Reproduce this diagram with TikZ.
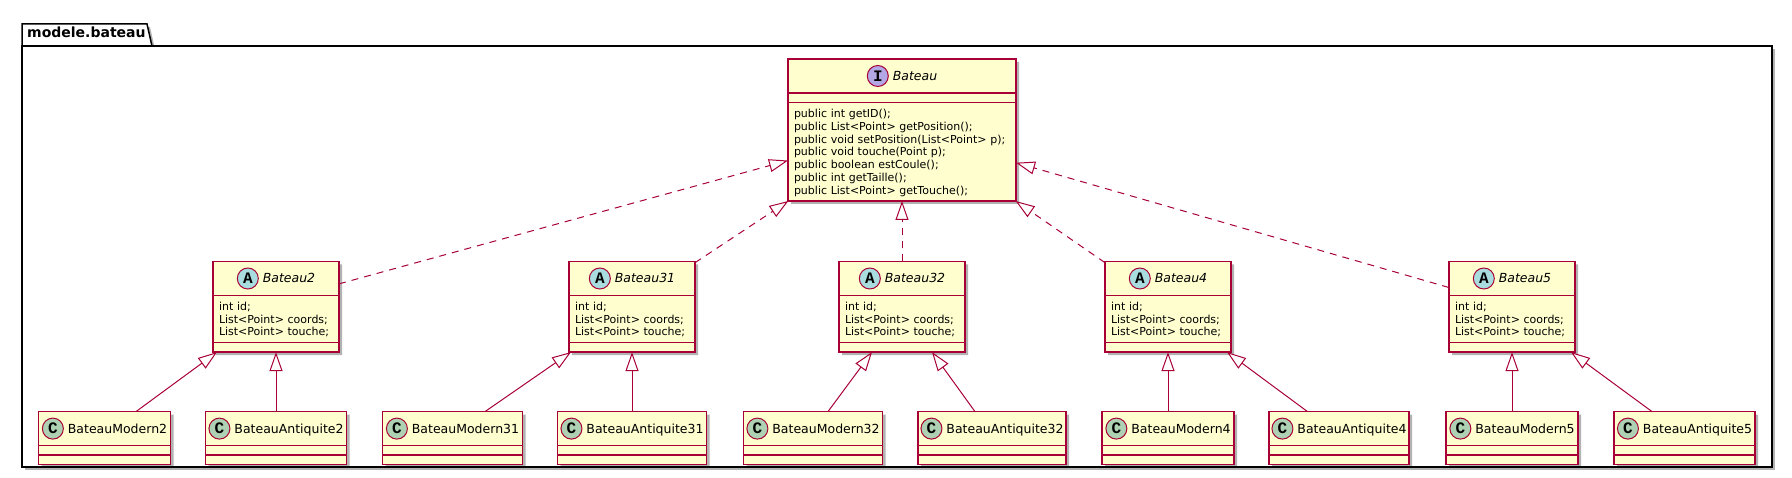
\documentclass[tikz,border=0pt]{standalone}
\usepackage{fontspec}
\setmainfont{DejaVu Sans}
\newfontfamily\iconfont{Liberation Mono}
\usetikzlibrary{positioning}
\usetikzlibrary{shapes.multipart}
\usetikzlibrary{shadows}
\usetikzlibrary{arrows.meta}

\definecolor{umlred}{HTML}{A80036}
\definecolor{umlfill}{HTML}{FEFECE}
\definecolor{absfill}{HTML}{A9DCDF}
\definecolor{intfill}{HTML}{B4A7E5}
\definecolor{clsfill}{HTML}{ADD1B2}

\newcommand{\umlicon}[2]{\tikz[baseline=-4.5pt]\node[circle, anchor=center, text width={}, align=center, draw=umlred, fill=#1, line width=1pt, minimum size=21pt, inner sep=0pt, outer sep=0pt, font=\iconfont\bfseries\fontsize{16}{16}\selectfont] at (0,0) {#2};}
\newcommand{\umltitle}[3]{\noindent\makebox[\hsize]{\rule[-11.75pt]{0pt}{32.5pt}\umlicon{#1}{#2}\hspace{4pt}{\fontsize{12.5}{15}\selectfont #3}}}
\newcommand{\umlgap}{\rule{0pt}{8pt}}

\begin{document}
\begin{tikzpicture}[x=1pt, y=-1pt,
	umlbox/.style={rectangle split, rectangle split parts=3, draw=umlred, fill=umlfill, line width=1.5pt, inner xsep=6pt, inner ysep=0pt, outer sep=0pt, align=left, font=\fontsize{11}{12.8}\selectfont, drop shadow={shadow xshift=3pt, shadow yshift=-3pt, opacity=0.3, fill=black}},
	ifbox/.style={umlbox, text width=216pt},
	absbox/.style={umlbox, text width=114pt},
	clsbox/.style={umlbox, text width=#1},
	implements/.style={draw=umlred, line width=1pt, dash pattern=on 7pt off 6pt, -{Triangle[length=19pt, width=13pt, fill=white]}},
	extends/.style={draw=umlred, line width=1pt, -{Triangle[length=19pt, width=13pt, fill=white]}},
	pkgframe/.style={draw=black, line width=1.5pt, fill=white, drop shadow={shadow xshift=3pt, shadow yshift=-3pt, opacity=0.3, fill=black}}]
	\useasboundingbox (0,0) rectangle (1792,478);
	\draw[pkgframe] (22,46) -- (22,24) -- (147,24) -- (152,46) -- cycle;
	\draw[pkgframe] (22,46) rectangle (1772,467);
	\node[anchor=base west, inner sep=0pt, font=\bfseries\fontsize{14}{16}\selectfont] (pkgname) at (27,38) {modele.bateau};

	\node[ifbox, anchor=north] (Bateau) at (902,59) {\umltitle{intfill}{I}{\textit{Bateau}}
		\nodepart{two}\umlgap
		\nodepart{three}\rule{0pt}{14.3pt}public int getID();\\ public List<Point> getPosition();\\ public void setPosition(List<Point> p);\\ public void touche(Point p);\\ public boolean estCoule();\\ public int getTaille();\\ public List<Point> getTouche();\rule[-5.9pt]{0pt}{5.9pt}};

	\node[absbox] (Bateau32) [below=60.5pt of Bateau] {\umltitle{absfill}{A}{\textit{Bateau32}}
		\nodepart{two}\rule{0pt}{14pt}int id;\\ List<Point> coords;\\ List<Point> touche;\rule[-6pt]{0pt}{6pt}
		\nodepart{three}\umlgap};
	\node[absbox] (Bateau31) [left=144pt of Bateau32] {\umltitle{absfill}{A}{\textit{Bateau31}}
		\nodepart{two}\rule{0pt}{14pt}int id;\\ List<Point> coords;\\ List<Point> touche;\rule[-6pt]{0pt}{6pt}
		\nodepart{three}\umlgap};
	\node[absbox] (Bateau2) [left=230pt of Bateau31] {\umltitle{absfill}{A}{\textit{Bateau2}}
		\nodepart{two}\rule{0pt}{14pt}int id;\\ List<Point> coords;\\ List<Point> touche;\rule[-6pt]{0pt}{6pt}
		\nodepart{three}\umlgap};
	\node[absbox] (Bateau4) [right=140pt of Bateau32] {\umltitle{absfill}{A}{\textit{Bateau4}}
		\nodepart{two}\rule{0pt}{14pt}int id;\\ List<Point> coords;\\ List<Point> touche;\rule[-6pt]{0pt}{6pt}
		\nodepart{three}\umlgap};
	\node[absbox] (Bateau5) [right=218pt of Bateau4] {\umltitle{absfill}{A}{\textit{Bateau5}}
		\nodepart{two}\rule{0pt}{14pt}int id;\\ List<Point> coords;\\ List<Point> touche;\rule[-6pt]{0pt}{6pt}
		\nodepart{three}\umlgap};

	\node[clsbox=129pt] (BateauAntiquite2) [below=59.5pt of Bateau2] {\umltitle{clsfill}{C}{BateauAntiquite2}\nodepart{two}\umlgap\nodepart{three}\umlgap};
	\node[clsbox=120pt] (BateauModern2) [left=35pt of BateauAntiquite2] {\umltitle{clsfill}{C}{BateauModern2}\nodepart{two}\umlgap\nodepart{three}\umlgap};
	\node[clsbox=128pt] (BateauModern31) [right=36pt of BateauAntiquite2] {\umltitle{clsfill}{C}{BateauModern31}\nodepart{two}\umlgap\nodepart{three}\umlgap};
	\node[clsbox=137pt] (BateauAntiquite31) [below=59.5pt of Bateau31] {\umltitle{clsfill}{C}{BateauAntiquite31}\nodepart{two}\umlgap\nodepart{three}\umlgap};
	\node[clsbox=127pt] (BateauModern32) [right=37pt of BateauAntiquite31] {\umltitle{clsfill}{C}{BateauModern32}\nodepart{two}\umlgap\nodepart{three}\umlgap};
	\node[clsbox=136pt] (BateauAntiquite32) [right=35.5pt of BateauModern32] {\umltitle{clsfill}{C}{BateauAntiquite32}\nodepart{two}\umlgap\nodepart{three}\umlgap};
	\node[clsbox=120pt] (BateauModern4) [below=59.5pt of Bateau4] {\umltitle{clsfill}{C}{BateauModern4}\nodepart{two}\umlgap\nodepart{three}\umlgap};
	\node[clsbox=128pt] (BateauAntiquite4) [right=35pt of BateauModern4] {\umltitle{clsfill}{C}{BateauAntiquite4}\nodepart{two}\umlgap\nodepart{three}\umlgap};
	\node[clsbox=120pt] (BateauModern5) [below=59.5pt of Bateau5] {\umltitle{clsfill}{C}{BateauModern5}\nodepart{two}\umlgap\nodepart{three}\umlgap};
	\node[clsbox=129pt] (BateauAntiquite5) [right=36pt of BateauModern5] {\umltitle{clsfill}{C}{BateauAntiquite5}\nodepart{two}\umlgap\nodepart{three}\umlgap};

	\draw[implements] (Bateau2.20) -- (Bateau.195);
	\draw[implements] (Bateau31.35) -- (Bateau.212);
	\draw[implements] (Bateau32) -- (Bateau);
	\draw[implements] (Bateau4.145) -- (Bateau.328);
	\draw[implements] (Bateau5.163) -- (Bateau.344);

	\draw[extends] ([xshift=31.5pt]BateauModern2.north) -- ([xshift=4pt]Bateau2.south west);
	\draw[extends] (BateauAntiquite2) -- (Bateau2);
	\draw[extends] ([xshift=32.5pt]BateauModern31.north) -- ([xshift=2pt]Bateau31.south west);
	\draw[extends] (BateauAntiquite31) -- (Bateau31);
	\draw[extends] ([xshift=15pt]BateauModern32.north) -- ([xshift=-30pt]Bateau32.south);
	\draw[extends] ([xshift=-17pt]BateauAntiquite32.north) -- ([xshift=30pt]Bateau32.south);
	\draw[extends] (BateauModern4) -- (Bateau4);
	\draw[extends] ([xshift=-31.5pt]BateauAntiquite4.north) -- ([xshift=-4pt]Bateau4.south east);
	\draw[extends] (BateauModern5) -- (Bateau5);
	\draw[extends] ([xshift=-32.5pt]BateauAntiquite5.north) -- ([xshift=-4pt]Bateau5.south east);
\end{tikzpicture}
\end{document}
